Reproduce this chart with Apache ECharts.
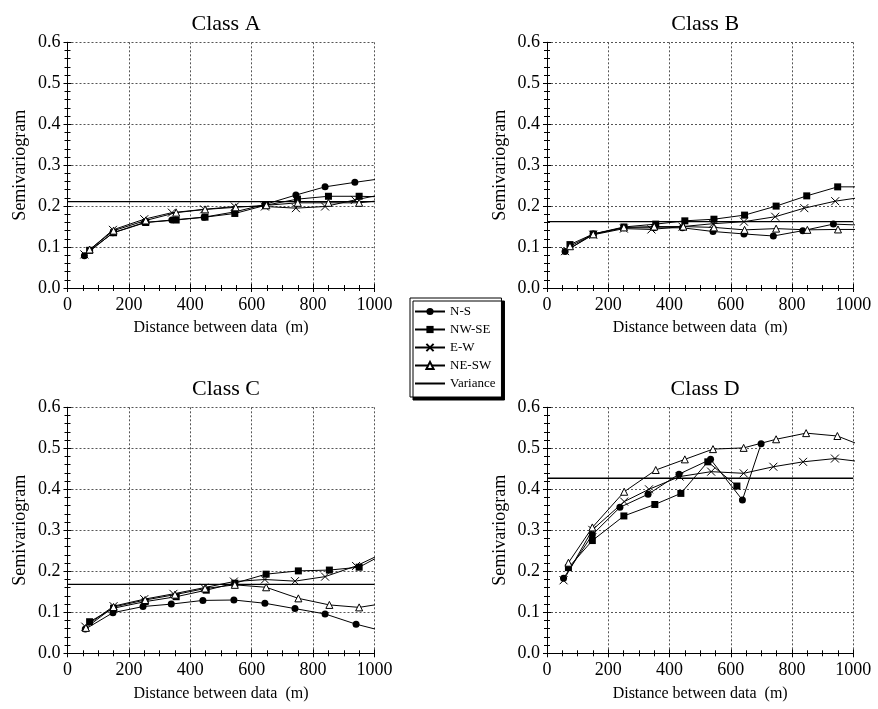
<!DOCTYPE html>
<html>
<head>
<meta charset="utf-8">
<style>
  html, body { margin: 0; padding: 0; background: #fff; }
  #chart { width: 878px; height: 709px; }
</style>
<script src="https://cdn.jsdelivr.net/npm/echarts@6/dist/echarts.min.js"></script>
</head>
<body>
<div id="chart"></div>
<script>
// Directional semivariograms: [lag distance (m), semivariance]

// Class A
const classA_NS   = [[55,0.079],[148,0.135],[251,0.160],[340,0.166],[445,0.173],[545,0.186],[643,0.204],[744,0.227],[839,0.247],[936,0.258],[1050,0.270]];
const classA_NWSE = [[72,0.092],[150,0.135],[255,0.160],[354,0.166],[448,0.173],[545,0.182],[645,0.202],[749,0.217],[850,0.224],[950,0.224],[1050,0.222]];
const classA_EW   = [[55,0.082],[148,0.142],[250,0.168],[340,0.184],[445,0.192],[545,0.199],[643,0.199],[744,0.195],[839,0.199],[936,0.215],[1050,0.232]];
const classA_NESW = [[72,0.094],[150,0.140],[255,0.165],[354,0.184],[448,0.192],[548,0.197],[648,0.202],[750,0.208],[850,0.208],[950,0.208],[1050,0.216]];
const varianceA = 0.211;

// Class B
const classB_NS   = [[59,0.089],[151,0.132],[251,0.147],[350,0.147],[442,0.147],[542,0.138],[643,0.132],[739,0.127],[835,0.140],[935,0.156],[1050,0.153]];
const classB_NWSE = [[75,0.106],[151,0.132],[251,0.149],[355,0.156],[450,0.164],[545,0.168],[645,0.178],[748,0.200],[848,0.225],[949,0.247],[1050,0.247]];
const classB_EW   = [[59,0.090],[151,0.130],[251,0.145],[341,0.143],[442,0.150],[542,0.157],[643,0.162],[745,0.174],[840,0.195],[941,0.212],[1050,0.224]];
const classB_NESW = [[75,0.102],[151,0.131],[251,0.148],[350,0.150],[445,0.150],[545,0.148],[645,0.142],[748,0.145],[850,0.142],[950,0.143],[1050,0.143]];
const varianceB = 0.162;

// Class C
const classC_NS   = [[58,0.059],[148,0.099],[246,0.114],[338,0.120],[441,0.129],[542,0.130],[643,0.122],[741,0.109],[839,0.096],[940,0.071],[1050,0.050]];
const classC_NWSE = [[72,0.077],[150,0.110],[253,0.126],[354,0.138],[452,0.154],[545,0.171],[647,0.193],[752,0.201],[853,0.203],[950,0.210],[1050,0.250]];
const classC_EW   = [[58,0.065],[150,0.115],[250,0.132],[345,0.145],[445,0.160],[542,0.175],[643,0.180],[741,0.176],[839,0.187],[940,0.213],[1050,0.252]];
const classC_NESW = [[60,0.062],[150,0.113],[253,0.130],[350,0.143],[448,0.158],[545,0.167],[647,0.161],[752,0.134],[853,0.118],[950,0.112],[1050,0.124]];
const varianceC = 0.168;

// Class D
const classD_NS   = [[54,0.183],[148,0.289],[238,0.356],[330,0.388],[431,0.437],[534,0.473],[638,0.374],[699,0.511]];
const classD_NWSE = [[70,0.209],[148,0.275],[251,0.335],[352,0.363],[437,0.390],[525,0.467],[620,0.408]];
const classD_EW   = [[54,0.178],[148,0.301],[252,0.370],[333,0.400],[433,0.431],[536,0.443],[642,0.439],[739,0.455],[836,0.467],[940,0.475],[1050,0.465]];
const classD_NESW = [[70,0.221],[148,0.307],[252,0.394],[355,0.447],[450,0.473],[542,0.498],[642,0.501],[748,0.522],[846,0.537],[948,0.530],[1050,0.500]];
const varianceD = 0.427;

const classTitles = ['Class A', 'Class B', 'Class C', 'Class D'];
const seriesNames = ['N-S', 'NW-SE', 'E-W', 'NE-SW', 'Variance'];
const xAxisTitle = 'Distance between data  (m)';
const yAxisTitle = 'Semivariogram';

const panelData = [
  [classA_NS, classA_NWSE, classA_EW, classA_NESW, varianceA],
  [classB_NS, classB_NWSE, classB_EW, classB_NESW, varianceB],
  [classC_NS, classC_NWSE, classC_EW, classC_NESW, varianceC],
  [classD_NS, classD_NWSE, classD_EW, classD_NESW, varianceD]
];

const FONT = '"Liberation Serif", "Times New Roman", serif';

// plot-area boxes for the four panels
const boxes = [
  { left: 67.5, top: 42.3, width: 307, height: 245.7 },
  { left: 547,  top: 42.3, width: 306.3, height: 245.7 },
  { left: 67.5, top: 407.3, width: 307, height: 246 },
  { left: 547,  top: 407.3, width: 306.3, height: 246 }
];

const markerStyles = [
  { symbol: 'circle', symbolSize: 7, itemStyle: { color: '#000', borderColor: '#000', borderWidth: 0 } },
  { symbol: 'rect', symbolSize: 7, itemStyle: { color: '#000', borderColor: '#000', borderWidth: 0 } },
  { symbol: 'path://M0,0L10,10M10,0L0,10', symbolSize: 8, itemStyle: { color: 'none', borderColor: '#000', borderWidth: 1 } },
  { symbol: 'triangle', symbolSize: 7, itemStyle: { color: '#fff', borderColor: '#000', borderWidth: 1 } }
];

const grids = [], xAxes = [], yAxes = [], series = [], titles = [];

const tickCommon = { show: true, inside: true, length: 4, lineStyle: { color: '#000', width: 1 } };
const minorCommon = { show: true, length: 3, lineStyle: { color: '#000', width: 1 } };
const gridLine = { show: true, lineStyle: { color: '#555', width: 1, type: [2, 2] } };

boxes.forEach((b, i) => {
  grids.push({ left: b.left, top: b.top, width: b.width, height: b.height, containLabel: false });

  // bottom and top x axes
  xAxes.push({
    type: 'value', gridIndex: i, position: 'bottom', min: 0, max: 1000, interval: 200,
    axisLine: { show: true, lineStyle: { color: '#000', width: 1 } },
    axisTick: tickCommon, minorTick: Object.assign({ splitNumber: 4 }, minorCommon),
    splitLine: gridLine,
    axisLabel: { color: '#000', fontFamily: FONT, fontSize: 18, margin: 8, formatter: v => String(v) },
    name: xAxisTitle, nameLocation: 'middle', nameGap: 32,
    nameTextStyle: { color: '#000', fontFamily: FONT, fontSize: 16 }
  });
  xAxes.push({
    type: 'value', gridIndex: i, position: 'top', min: 0, max: 1000, interval: 200,
    axisLine: { show: true, lineStyle: { color: '#000', width: 1 } },
    axisTick: tickCommon, minorTick: Object.assign({ splitNumber: 4 }, minorCommon),
    splitLine: { show: false }, axisLabel: { show: false }
  });

  // left and right y axes
  yAxes.push({
    type: 'value', gridIndex: i, position: 'left', min: 0, max: 0.6, interval: 0.1,
    axisLine: { show: true, lineStyle: { color: '#000', width: 1 } },
    axisTick: tickCommon, minorTick: Object.assign({ splitNumber: 5 }, minorCommon),
    splitLine: gridLine,
    axisLabel: { color: '#000', fontFamily: FONT, fontSize: 18, margin: 7, formatter: v => v.toFixed(1) },
    name: yAxisTitle, nameLocation: 'middle', nameGap: 38,
    nameTextStyle: { color: '#000', fontFamily: FONT, fontSize: 18 }
  });
  yAxes.push({
    type: 'value', gridIndex: i, position: 'right', min: 0, max: 0.6, interval: 0.1,
    axisLine: { show: true, lineStyle: { color: '#000', width: 1 } },
    axisTick: tickCommon, minorTick: Object.assign({ splitNumber: 5 }, minorCommon),
    splitLine: { show: false }, axisLabel: { show: false }
  });

  const pd = panelData[i];
  for (let k = 0; k < 4; k++) {
    series.push(Object.assign({
      type: 'line', name: seriesNames[k], data: pd[k],
      xAxisIndex: 2 * i, yAxisIndex: 2 * i,
      clip: true, showSymbol: true, animation: false,
      lineStyle: { color: '#000', width: 1 },
      color: '#000', z: 3 + k
    }, markerStyles[k]));
  }
  series.push({
    type: 'line', name: seriesNames[4], data: [[0, pd[4]], [1000, pd[4]]],
    xAxisIndex: 2 * i, yAxisIndex: 2 * i,
    showSymbol: false, symbol: 'none', animation: false, color: '#000',
    lineStyle: { color: '#000', width: 1.3 }, z: 2
  });

  titles.push({
    text: classTitles[i],
    left: b.left + b.width / 2, textAlign: 'center',
    top: b.top - 34,
    textStyle: { color: '#000', fontFamily: FONT, fontSize: 22, fontWeight: 'normal' }
  });
});

const legendItems = seriesNames.map(n => n === 'Variance'
  ? { name: n, itemStyle: { opacity: 0 } }
  : { name: n });

const chart = echarts.init(document.getElementById('chart'), null, { renderer: 'canvas' });
chart.setOption({
  backgroundColor: '#fff',
  animation: false,
  title: titles,
  grid: grids,
  xAxis: xAxes,
  yAxis: yAxes,
  series: series,
  legend: {
    data: legendItems,
    orient: 'vertical',
    left: 410, top: 298,
    itemWidth: 30, itemHeight: 9, itemGap: 5, itemTextGap: 2,
    padding: [7, 6, 7, 4],
    selectedMode: false,
    backgroundColor: '#fff',
    borderColor: '#000', borderWidth: 1, borderRadius: 0,
    shadowColor: '#000', shadowOffsetX: 3, shadowOffsetY: 3, shadowBlur: 0,
    textStyle: { color: '#000', fontFamily: FONT, fontSize: 13, lineHeight: 12 }
  }
});
</script>
</body>
</html>
